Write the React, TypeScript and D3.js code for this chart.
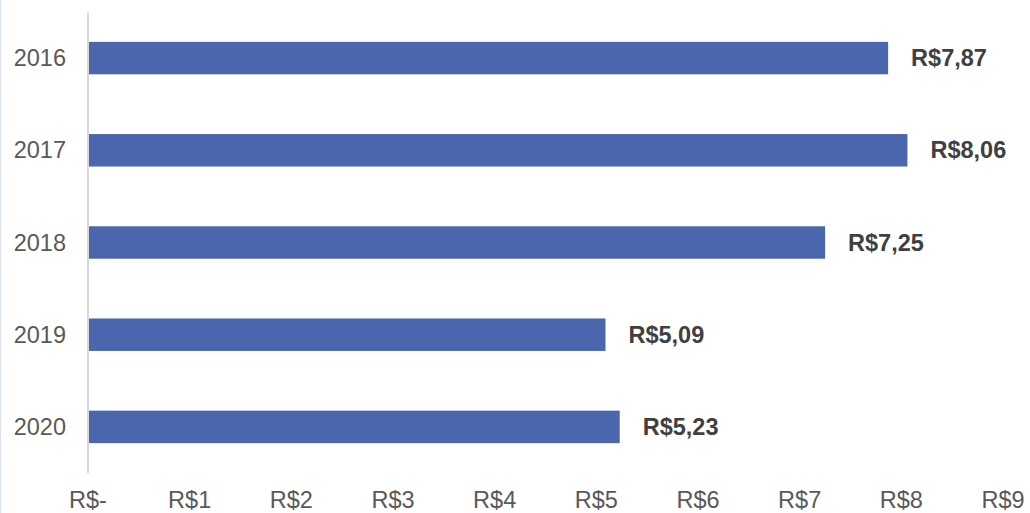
import React from "react";
import * as d3 from "d3";

const years = ["2016", "2017", "2018", "2019", "2020"];
const values = [7.87, 8.06, 7.25, 5.09, 5.23];
const tickValues = [0, 1, 2, 3, 4, 5, 6, 7, 8, 9];
const tickLabels = ["R$-", "R$1", "R$2", "R$3", "R$4", "R$5", "R$6", "R$7", "R$8", "R$9"];
const valueLabels = ["R$7,87", "R$8,06", "R$7,25", "R$5,09", "R$5,23"];

export default function App() {
  const W = 1030, H = 513;
  const x = d3.scaleLinear().domain([0, 9]).range([88, 1003]);
  const y = d3.scaleBand<string>().domain(years).range([12, 473]).paddingInner(0.648).paddingOuter(0.324);
  const font = "'Liberation Sans', Arial, sans-serif";
  return (
    <svg width={W} height={H} style={{ position: "absolute", left: 0, top: 0, background: "#fff" }} fontFamily={font}>
      <line x1={0.5} x2={0.5} y1={0} y2={H} stroke="#dce6f2" strokeWidth={1} />
      {years.map((yr, i) => (
        <g key={yr}>
          <rect x={x(0)} y={y(yr)!} width={x(values[i]) - x(0)} height={y.bandwidth()} fill="#4a66ac" />
          <text x={x(values[i]) + 23} y={y(yr)! + y.bandwidth() / 2} dominantBaseline="central" fontSize={23.5} fontWeight="bold" fill="#404040">
            {valueLabels[i]}
          </text>
          <text x={66} y={y(yr)! + y.bandwidth() / 2} dominantBaseline="central" textAnchor="end" fontSize={23.5} fill="#595959">
            {yr}
          </text>
        </g>
      ))}
      <line x1={x(0)} x2={x(0)} y1={12} y2={473} stroke="#d9d9d9" strokeWidth={2} />
      {tickValues.map((t, i) => (
        <text key={t} x={x(t)} y={500} dominantBaseline="central" textAnchor="middle" fontSize={23.5} fill="#595959">
          {tickLabels[i]}
        </text>
      ))}
    </svg>
  );
}
